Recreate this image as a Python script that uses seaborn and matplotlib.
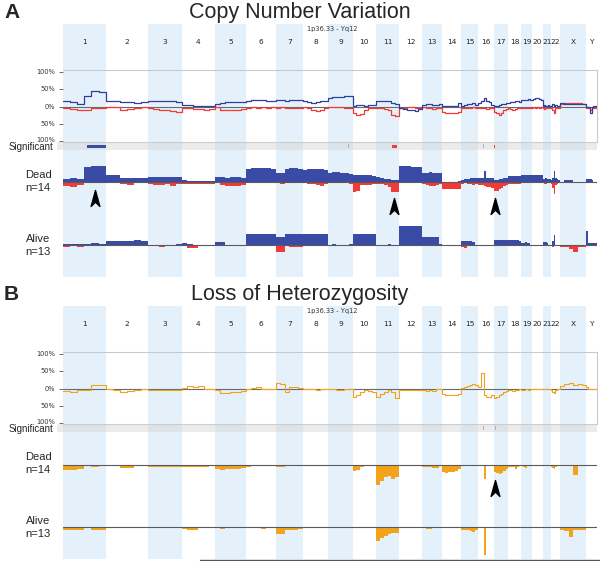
import numpy as np
import pandas as pd
import matplotlib
matplotlib.use("Agg")
import matplotlib.pyplot as plt
import seaborn as sns
from matplotlib.path import Path
from matplotlib.patches import Rectangle
from matplotlib.lines import Line2D
import matplotlib.transforms as mtransforms

# ---------------- data ----------------
CHROMS = ["1", "2", "3", "4", "5", "6", "7", "8", "9", "10", "11", "12",
          "13", "14", "15", "16", "17", "18", "19", "20", "21", "22", "X", "Y"]
CHROM_LEN_MB = [249.3, 243.2, 198.0, 191.2, 180.9, 171.1, 159.1, 146.4, 141.2,
                135.5, 135.0, 133.9, 115.2, 107.3, 102.5, 90.4, 81.2, 78.1,
                59.1, 63.0, 48.1, 51.3, 155.3, 59.4]

FREQ_TICKS = [100, 50, 0, -50, -100]
FREQ_TICK_LABELS = ["100%", "50%", "0%", "50%", "100%"]

# Copy number frequency (%), signed: gain line (blue) and loss line (red)
CNV_FREQ_GAIN = [
    [15, 12, 8, 30, 45, 42], [16, 15, 14, 12, 10, 12], [16, 16, 17, 16, 15, 14],
    [5, 4, 3, 2, 2, 1], [6, 10, 13, 14, 14, 13], [15, 18, 20, 18, 17, 16],
    [20, 18, 17, 18, 18, 19], [15, 12, 10, 12, 15, 15], [25, 28, 27, 28, 30, 30],
    [3, 5, 4, 3, 5, 4], [15, 17, 17, 17, 10, 8], [-5, -8, -10, -10, -12, -8],
    [5, 8, 6, 5, 4, 6], [2, 2, 3, 2, 3, 10], [3, 5, 6, 8, 10, 5],
    [10, 15, 25, 15, 12, 5], [2, 3, 5, 8, 8, 10], [10, 12, 12, 15, 15, 12],
    [18, 20, 18, 20, 22, 20], [20, 22, 25, 25, 22, 20], [3, 5, 2, 3, 5, 3],
    [2, 8, 3, 5, 2, 3], [10, 8, 8, 8, 8, 8], [0, 0, -20, 0, 2, 2]]
CNV_FREQ_LOSS = [
    [-5, -8, -10, -10, -3, -3], [-2, -2, -10, -8, -3, -2], [-3, -8, -10, -10, -12, -15],
    [-3, -5, -8, -8, -10, -8], [-2, -10, -10, -10, -10, -8], [-3, -2, -3, -2, -3, -2],
    [-3, -2, -5, -3, -3, -3], [-2, -5, -10, -12, -10, -5], [-2, -2, -2, -2, -3, -3],
    [-20, -25, -22, -10, -5, -5], [-5, -5, -8, -10, -25, -28], [-3, -3, -2, -2, -3, -3],
    [-2, -3, -5, -8, -5, -3], [-15, -18, -20, -20, -18, -15], [-3, -5, -5, -3, -2, -3],
    [-5, -3, -5, -8, -5, -5], [-15, -20, -25, -20, -10, -8], [-5, -8, -10, -8, -5, -5],
    [-3, -3, -5, -3, -3, -3], [-3, -2, -3, -2, -3, -2], [-5, -8, -5, -3, -3, -3],
    [-3, -10, -20, -5, -3, -3], [8, 10, 10, 10, 10, 8], [-3, -5, -10, -5, -3, -3]]

# Dead group (n=14): % gain (up) and % loss (down)
CNV_DEAD_GAIN = [
    [8, 10, 6, 38, 39, 39], [18, 18, 10, 10, 10, 10], [12, 12, 12, 12, 12, 12],
    [5, 3, 3, 2, 2, 2], [12, 12, 10, 12, 12, 10], [33, 34, 34, 34, 34, 33],
    [22, 22, 33, 34, 34, 33], [30, 31, 31, 32, 31, 30], [22, 24, 24, 22, 22, 20],
    [17, 16, 16, 17, 16, 14], [12, 10, 8, 6, 4, 4], [40, 39, 39, 38, 38, 38],
    [22, 22, 24, 22, 22, 22], [0, 0, 0, 0, 0, 2], [5, 8, 8, 10, 10, 10],
    [10, 10, 28, 10, 10, 10], [5, 5, 8, 8, 10, 10], [14, 14, 14, 14, 14, 14],
    [16, 16, 16, 16, 16, 16], [17, 17, 17, 17, 17, 17], [8, 8, 10, 8, 8, 8],
    [5, 10, 28, 10, 8, 5], [0, 5, 5, 0, 0, 0], [8, 8, 8, 5, 0, 0]]
CNV_DEAD_LOSS = [
    [10, 12, 8, 2, 3, 3], [3, 2, 5, 8, 3, 2], [5, 8, 8, 5, 10, 5],
    [5, 5, 5, 5, 5, 5], [3, 8, 10, 10, 10, 8], [2, 2, 3, 3, 3, 2],
    [3, 5, 3, 3, 3, 3], [3, 5, 5, 8, 10, 5], [2, 2, 2, 2, 3, 5],
    [25, 22, 8, 8, 8, 5], [5, 6, 8, 12, 25, 26], [2, 2, 2, 2, 2, 2],
    [5, 8, 10, 10, 8, 5], [17, 17, 17, 17, 17, 17], [5, 3, 5, 5, 8, 5],
    [8, 8, 10, 12, 12, 15], [23, 23, 18, 15, 10, 8], [5, 5, 5, 5, 5, 5],
    [3, 3, 3, 3, 3, 3], [3, 2, 2, 3, 2, 2], [3, 5, 5, 3, 3, 3],
    [5, 15, 30, 8, 5, 3], [0, 0, 0, 0, 0, 0], [0, 0, 0, 2, 0, 0]]

# Alive group (n=13)
CNV_ALIVE_GAIN = [
    [2, 2, 3, 3, 5, 3], [10, 10, 10, 10, 12, 10], [0, 0, 0, 0, 0, 3],
    [6, 2, 0, 0, 0, 0], [8, 8, 0, 0, 0, 0], [27, 27, 27, 28, 27, 27],
    [20, 20, 27, 27, 27, 27], [27, 27, 27, 27, 27, 27], [0, 2, 0, 0, 0, 2],
    [27, 27, 28, 27, 27, 27], [0, 0, 0, 2, 0, 0], [48, 48, 48, 48, 48, 48],
    [21, 21, 21, 21, 21, 2], [0, 0, 0, 0, 0, 0], [10, 10, 10, 10, 8, 0],
    [0, 0, 0, 0, 0, 0], [14, 14, 14, 14, 14, 14], [14, 14, 14, 14, 14, 10],
    [5, 5, 8, 5, 5, 0], [0, 0, 0, 0, 0, 0], [8, 8, 8, 5, 0, 0],
    [0, 10, 25, 0, 0, 0], [0, 0, 0, 0, 0, 0], [35, 5, 5, 5, 5, 5]]
CNV_ALIVE_LOSS = [
    [5, 3, 5, 3, 2, 2], [0, 0, 0, 0, 0, 0], [2, 3, 5, 3, 3, 2],
    [3, 7, 7, 3, 0, 0], [0, 0, 0, 0, 0, 0], [2, 0, 0, 0, 0, 0],
    [17, 17, 2, 5, 5, 5], [0, 0, 0, 2, 0, 0], [0, 0, 0, 0, 0, 0],
    [0, 0, 0, 0, 2, 0], [0, 0, 3, 0, 0, 0], [0, 0, 0, 0, 0, 0],
    [0, 0, 0, 0, 0, 0], [0, 0, 0, 0, 0, 0], [5, 8, 3, 3, 3, 3],
    [3, 3, 3, 0, 0, 0], [0, 0, 3, 0, 0, 0], [0, 0, 0, 0, 0, 3],
    [0, 0, 0, 0, 0, 0], [0, 0, 0, 0, 0, 0], [0, 0, 0, 0, 0, 0],
    [0, 5, 0, 0, 0, 0], [5, 5, 10, 18, 5, 5], [0, 0, 0, 0, 0, 0]]

# Loss of heterozygosity
LOH_FREQ = [
    [-8, -10, -5, -3, 10, 10], [-2, -3, -10, -8, -5, 0], [-5, -5, -3, -5, -5, -3],
    [3, 8, 5, 8, 0, 0], [-5, -12, -12, -10, -10, -8], [-2, 3, 5, 0, 0, 0],
    [15, 12, -10, 5, 5, 3], [0, 0, -2, -5, 0, 0], [0, 0, -3, -5, 0, -2],
    [-25, -20, -10, -5, -8, -10], [-25, -15, -10, -5, -10, -28], [-3, -5, -3, -3, -5, -3],
    [-3, -8, -5, -8, 0, 0], [-15, -18, -18, -18, -18, -15], [3, 5, 8, 10, 12, 10],
    [5, 45, -20, -25, -25, -20], [-28, -25, -20, -15, -10, -8], [-3, -5, -8, -5, -3, -2],
    [-5, -3, 0, -2, -5, 0], [0, 0, 0, 0, 0, 0], [0, 0, 0, 0, 0, 0],
    [-5, -10, -12, -5, 0, 0], [8, 12, 15, 10, 12, 10], [5, 0, 0, 0, 0, 0]]
LOH_DEAD = [
    [12, 12, 10, 2, 5, 3], [2, 2, 8, 8, 3, 2], [5, 5, 5, 5, 5, 5],
    [5, 5, 5, 5, 5, 3], [10, 12, 10, 10, 10, 8], [5, 2, 0, 0, 0, 0],
    [5, 5, 3, 3, 2, 2], [3, 3, 2, 2, 3, 3], [3, 3, 2, 2, 2, 3],
    [15, 12, 5, 3, 3, 2], [50, 40, 30, 28, 35, 30], [3, 3, 3, 3, 2, 2],
    [5, 5, 5, 8, 8, 3], [18, 20, 18, 18, 15, 10], [3, 3, 3, 3, 3, 3],
    [3, 3, 35, 3, 3, 3], [18, 20, 22, 20, 15, 10], [5, 5, 5, 10, 5, 3],
    [3, 5, 8, 3, 3, 3], [0, 0, 0, 0, 0, 0], [0, 0, 0, 0, 0, 0],
    [5, 8, 10, 5, 3, 3], [0, 0, 0, 25, 0, 0], [0, 0, 0, 0, 0, 0]]
LOH_ALIVE = [
    [8, 8, 8, 3, 8, 8], [2, 0, 2, 0, 2, 0], [0, 0, 2, 0, 0, 2],
    [5, 8, 8, 3, 0, 0], [3, 5, 0, 0, 0, 0], [0, 0, 3, 5, 0, 0],
    [18, 18, 8, 8, 8, 5], [3, 0, 0, 0, 0, 2], [0, 0, 3, 3, 0, 0],
    [0, 0, 0, 0, 0, 0], [35, 28, 22, 18, 15, 15], [0, 0, 0, 0, 0, 0],
    [0, 5, 5, 0, 0, 0], [0, 0, 0, 0, 0, 0], [8, 8, 8, 10, 12, 8],
    [0, 0, 70, 0, 0, 0], [0, 0, 0, 0, 0, 0], [0, 0, 0, 0, 3, 0],
    [0, 3, 0, 0, 0, 0], [0, 0, 0, 0, 0, 0], [0, 0, 0, 0, 0, 0],
    [0, 0, 0, 0, 0, 0], [8, 10, 25, 8, 8, 8], [0, 0, 0, 0, 0, 0]]

# significant regions: chromosome, start Mb, end Mb, kind
SIG_A_CHROM = ["1", "9", "9", "10", "11", "16", "17"]
SIG_A_START = [141, 95, 115, 29, 91, 27, 3]
SIG_A_END = [249, 99, 119, 33, 120, 31, 8]
SIG_A_KIND = ["gain", "minor", "minor", "minor", "loss", "minor", "loss"]
SIG_B_CHROM = ["16", "17"]
SIG_B_START = [27, 6]
SIG_B_END = [31, 10]
SIG_B_KIND = ["minor", "minor"]

# arrowheads (chromosome, Mb, px below baseline)
ARROW_A_CHROM = ["1", "11", "17"]
ARROW_A_POS = [187, 107, 4]
ARROW_A_DEPTH = [16.3, 24.3, 24.3]
ARROW_B_CHROM = ["17"]
ARROW_B_POS = [8]
ARROW_B_DEPTH = [22.5]

# ---------------- style ----------------
BLUE = "#3a4ba6"
BLUE_LINE = "#2f3f9e"
RED = "#f23a36"
ORANGE = "#f2a31b"
BAND = "#e4f1fb"

sns.set_theme(style="white")
plt.rcParams['font.family'] = ['Liberation Sans', 'DejaVu Sans']

W, H = 600, 561
fig = plt.figure(figsize=(W / 100, H / 100), dpi=100)
fig.patch.set_facecolor("white")

starts = np.concatenate([[0], np.cumsum(CHROM_LEN_MB)[:-1]])
GENOME = float(np.sum(CHROM_LEN_MB))
X0, XW = 62.7, 534.0
CIDX = {c: i for i, c in enumerate(CHROMS)}

ARROW = Path([(0, 1), (0.55, -1), (0, -0.45), (-0.55, -1), (0, 1)],
             [Path.MOVETO, Path.LINETO, Path.LINETO, Path.LINETO, Path.CLOSEPOLY])


def px_axes(left, top, width, height, z=1):
    ax = fig.add_axes([left / W, 1 - (top + height) / H, width / W, height / H])
    ax.set_xlim(0, GENOME)
    ax.patch.set_alpha(0)
    ax.set_zorder(z)
    for s in ax.spines.values():
        s.set_visible(False)
    ax.set_xticks([])
    ax.set_yticks([])
    return ax


def edges(ci, n):
    return np.linspace(starts[ci], starts[ci] + CHROM_LEN_MB[ci], n + 1)


def step_frame(series):
    xs, ys = [], []
    for ci, vals in enumerate(series):
        e = edges(ci, len(vals))
        xs.extend(e[:-1])
        ys.extend(vals)
    xs.append(GENOME)
    ys.append(series[-1][-1])
    return pd.DataFrame({"pos": xs, "value": ys})


def fill_steps(ax, series, color, sign=1):
    for ci, vals in enumerate(series):
        e = edges(ci, len(vals))
        v = sign * np.array(list(vals) + [vals[-1]], float)
        ax.fill_between(e, 0, v, step="post", color=color, linewidth=0)


def row_axes(top, bottom, base, scale=0.4):
    ax = px_axes(X0, top, XW, bottom - top, z=3)
    ax.set_ylim(-(bottom - base) / scale, (base - top) / scale)
    return ax


def draw_panel(o, letter, title, kind, dead_base, alive_base):
    # background chromosome bands
    bg = px_axes(X0, 24 + o, XW, 252.7, z=0)
    bg.set_ylim(0, 1)
    for ci, c in enumerate(CHROMS):
        if ci % 2 == 0:
            bg.axvspan(starts[ci], starts[ci] + CHROM_LEN_MB[ci], color=BAND, lw=0)
        bg.text(starts[ci] + CHROM_LEN_MB[ci] / 2, (276.7 - 42) / 252.7, c,
                ha="center", va="center", fontsize=5.3, color="#222",
                family="DejaVu Sans")

    fig.text(4 / W, 1 - (18.3 + o) / H, letter, fontsize=15, fontweight="bold",
             ha="left", va="baseline")
    fig.text(300 / W, 1 - (18.3 + o) / H, title, fontsize=15.5,
             ha="center", va="baseline")
    fig.text(307 / W, 1 - (29.5 + o) / H, "1p36.33 - Yq12", fontsize=4.8,
             ha="left", va="center", family="DejaVu Sans", color="#333")

    # frequency plot
    fq = px_axes(X0, 69.7 + o, XW, 72, z=2)
    for side in ("top", "right", "bottom"):
        fq.spines[side].set_visible(True)
        fq.spines[side].set_color("#c9c9c9")
        fq.spines[side].set_linewidth(0.8)
    fq.axhline(0, color="#6a6a6a", lw=0.8, zorder=1)
    if kind == "cnv":
        sns.lineplot(data=step_frame(CNV_FREQ_GAIN), x="pos", y="value", ax=fq,
                     drawstyle="steps-post", estimator=None, sort=False,
                     color=BLUE_LINE, lw=0.9, zorder=3)
        sns.lineplot(data=step_frame(CNV_FREQ_LOSS), x="pos", y="value", ax=fq,
                     drawstyle="steps-post", estimator=None, sort=False,
                     color=RED, lw=0.9, zorder=2)
    else:
        sns.lineplot(data=step_frame(LOH_FREQ), x="pos", y="value", ax=fq,
                     drawstyle="steps-post", estimator=None, sort=False,
                     color=ORANGE, lw=0.8, zorder=3)
    fq.set_xlim(0, GENOME)
    fq.set_ylim(-101.5, 106.4)
    fq.set_xlabel("")
    fq.set_ylabel("")
    fq.set_xticks([])
    fq.set_yticks(FREQ_TICKS)
    fq.set_yticklabels([])
    fq.tick_params(axis="y", left=True, length=3, width=0.6, color="#555")
    lab_tr = mtransforms.blended_transform_factory(fq.transAxes, fq.transData)
    for v, lab in zip(FREQ_TICKS, FREQ_TICK_LABELS):
        yv = v + 4 if v == -100 else v
        fq.text(-0.0135, yv, lab, transform=lab_tr, ha="right", va="center",
                fontsize=4.8, color="#333", family="DejaVu Sans")

    # significant row
    sg = px_axes(X0, 141.7 + o, XW, 8.3, z=2)
    sg.set_ylim(0, 1)
    sg.add_patch(Rectangle((-(X0 - 57) / XW, 0), 1 + (X0 - 57) / XW, 1,
                           transform=sg.transAxes, color="#d4d4d4", alpha=0.45,
                           lw=0, clip_on=False))
    fig.text(53 / W, 1 - (147.5 + o) / H, "Significant", fontsize=7,
             ha="right", va="center")
    if kind == "cnv":
        sig = zip(SIG_A_CHROM, SIG_A_START, SIG_A_END, SIG_A_KIND)
    else:
        sig = zip(SIG_B_CHROM, SIG_B_START, SIG_B_END, SIG_B_KIND)
    kcol = {"gain": BLUE, "loss": RED, "minor": "#b0b0c0"}
    for c, s, e, k in sig:
        x = starts[CIDX[c]] + s
        if k == "minor":
            sg.add_patch(Rectangle((x, 0.3), e - s, 0.45, color=kcol[k], lw=0))
        else:
            sg.add_patch(Rectangle((x, 0.28), e - s, 0.3, color=kcol[k], lw=0))

    # dead / alive rows
    dead = row_axes(150 + o, 212 + o, dead_base + o)
    alive = row_axes(215 + o, 276.7 + o, alive_base + o)
    if kind == "cnv":
        fill_steps(dead, CNV_DEAD_GAIN, BLUE, 1)
        fill_steps(dead, CNV_DEAD_LOSS, RED, -1)
        fill_steps(alive, CNV_ALIVE_GAIN, BLUE, 1)
        fill_steps(alive, CNV_ALIVE_LOSS, RED, -1)
        arrows = zip(ARROW_A_CHROM, ARROW_A_POS, ARROW_A_DEPTH)
    else:
        fill_steps(dead, LOH_DEAD, ORANGE, -1)
        fill_steps(alive, LOH_ALIVE, ORANGE, -1)
        arrows = zip(ARROW_B_CHROM, ARROW_B_POS, ARROW_B_DEPTH)
    for ax in (dead, alive):
        ax.axhline(0, color="#5a5a5a", lw=0.8, zorder=5)
    for c, p, d in arrows:
        dead.plot([starts[CIDX[c]] + p], [-d / 0.4], marker=ARROW, ms=11.5,
                  color="black", ls="none", clip_on=False, zorder=6)

    fig.text(38 / W, 1 - (175 + o) / H, "Dead", fontsize=8, ha="center", va="center")
    fig.text(38 / W, 1 - (188 + o) / H, "n=14", fontsize=8, ha="center", va="center")
    fig.text(38 / W, 1 - (239.3 + o) / H, "Alive", fontsize=8, ha="center", va="center")
    fig.text(38 / W, 1 - (251.7 + o) / H, "n=13", fontsize=8, ha="center", va="center")


draw_panel(0, "A", "Copy Number Variation", "cnv", 181.7, 245.3)
draw_panel(282, "B", "Loss of Heterozygosity", "loh", 183.0, 245.3)

fig.add_artist(Line2D([200 / W, 1.0], [1 - 560.3 / H] * 2, color="#555", lw=1.0))

fig.savefig("out.png", dpi=100)
